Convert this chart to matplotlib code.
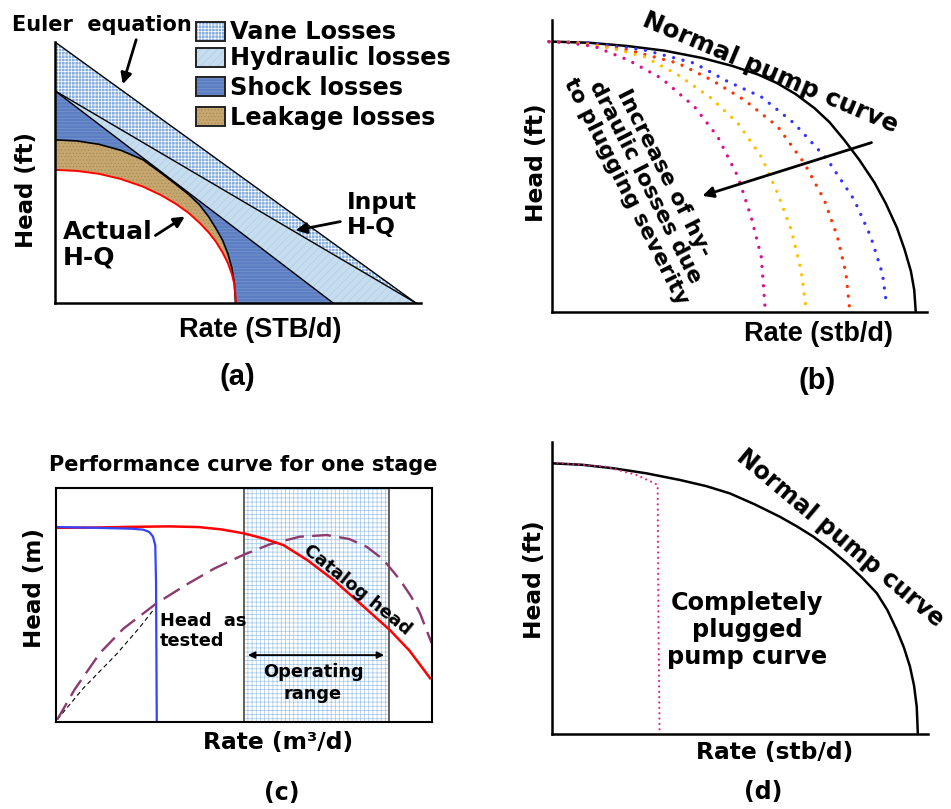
import numpy as np
import matplotlib.pyplot as plt
from matplotlib.patches import Rectangle

plt.rcParams['font.family'] = 'DejaVu Sans'
plt.rcParams['hatch.linewidth'] = 0.5

W, H = 951, 809

# ---- panel (a): head losses (x, y in % of axis) ----
euler_x = [0, 98.6]
euler_y = [100, 0]
input_x = [0, 98.6]
input_y = [81.3, 0]
hyd_x = [0, 76]
hyd_y = [81.3, 0]
leak_x = [0, 6, 12, 18, 24, 29, 33, 36.5, 39.5, 42, 44, 45.8, 47.2, 48.3, 49.0, 49.3]
leak_y = [62.5, 62.1, 60.8, 58.5, 54.9, 49.8, 45.5, 41.6, 37.6, 33.0, 28.5, 24.0, 19.0, 13.5, 7.5, 0]
actual_x = [0, 6, 12, 18, 24, 29, 33, 36.5, 39.5, 42, 44, 45.8, 47.2, 48.3, 49.0, 49.5]
actual_y = [51, 50.6, 49.5, 47.5, 44.6, 41.3, 38.0, 34.5, 30.7, 27.0, 23.4, 19.3, 15.4, 11.2, 7.2, 0]
legend_labels = ['Vane Losses', 'Hydraulic losses', 'Shock losses', 'Leakage losses']

# ---- panel (b): plugging severity ----
normal_b_x = [0, 10, 20, 30, 40, 48, 55, 60, 65, 70, 74, 78, 82, 86, 89, 92, 94, 95.7, 96.6, 97.0]
normal_b_y = [92.6, 92.2, 91.1, 89.5, 87.0, 84.3, 81.3, 78.4, 74.6, 69.8, 65.0, 58.8, 52.0,
              44.3, 37.2, 28.8, 21.5, 14.0, 7.5, 0]
blue_x = [-0.8, 10, 24.7, 38, 46.9, 55.8, 64.6, 73.5, 80.6, 85, 88.1, 89.3]
blue_y = [92.6, 92.2, 89.7, 85.2, 78.9, 73.7, 64.6, 52.1, 38.4, 25.8, 13.2, 1.8]
red_x = [-0.8, 8, 20.3, 33.6, 42.5, 51.3, 60.2, 67.3, 72.6, 76.1, 78.4, 79.3]
red_y = [92.6, 92.2, 89.7, 85.2, 79.5, 72.6, 63.5, 50.9, 38.4, 25.8, 13.2, 1.8]
orange_x = [-0.8, 6, 15.9, 24.7, 33.6, 42.5, 49.6, 55.8, 60.2, 63.8, 66.4, 67.7]
orange_y = [92.6, 92.3, 90.3, 87.4, 81.2, 73.2, 64.6, 53.2, 40.6, 28.1, 14.4, 1.8]
magenta_x = [-0.8, 4, 11.4, 20.3, 29.2, 38, 44.2, 49.6, 53.1, 55.8, 56.8]
magenta_y = [92.6, 92.3, 90.9, 86.3, 80.0, 70.3, 60.0, 46.3, 32.6, 18.9, 1.8]

# ---- panel (c): one stage performance ----
catalog_x = [0.5, 10, 20, 30, 38, 44, 50, 55, 60.5, 67, 73.8, 81, 88.8, 94, 99.5]
catalog_y = [83.0, 83.1, 83.4, 83.6, 83.3, 82.3, 80.6, 78.5, 75.6, 69.0, 60.7, 50.5, 39.3, 30.5, 18.7]
tested_x = [0.5, 10, 20, 23.2, 24.8, 25.8, 26.4, 26.6, 26.8]
tested_y = [83.3, 83.0, 82.6, 82.2, 81.2, 79.2, 75.5, 60, 0]
eff_x = [0.35, 5, 11.7, 18, 26.8, 35, 42, 49.8, 57, 64.9, 72, 78, 82.6, 87, 91.5, 94.5, 96.8, 99.9]
eff_y = [1.1, 14, 29.5, 40, 50.8, 59, 65.5, 71.4, 76, 79.2, 79.9, 78.2, 74.9, 69.5, 60.7, 53.5, 46.5, 33.7]
eff2_x = [0.35, 7.3, 16.1, 22.3, 25.9]
eff2_y = [1.1, 14.5, 29.0, 40.5, 47.9]
op_range = [50, 88.6]

# ---- panel (d): completely plugged ----
normal_d_x = [0, 8, 16.3, 25, 34, 41, 47.3, 54, 60.6, 65, 69.5, 74, 78.4, 82.5, 86.4, 89.2,
              91.7, 93.6, 95.2, 96.3, 97.0, 97.3]
normal_d_y = [92.7, 92.2, 91.0, 89.3, 87.0, 84.9, 82.4, 78.6, 74.4, 71.2, 67.6, 63.3, 58.5,
              53.5, 48.2, 42.4, 35.6, 29.6, 23.1, 16.5, 9.4, 0]
plugged_x = [0, 14.5, 22.5, 26.9, 28.1, 28.3, 28.6]
plugged_y = [93, 91.5, 88.7, 86.1, 85.3, 40, 1.4]


def box(l, t, r, b):
    return [l / W, 1 - b / H, (r - l) / W, (b - t) / H]


def fp(x, y):
    return (x / W, 1 - y / H)


def txt(x, y, s, size=16.5, **kw):
    kw.setdefault('ha', 'center')
    kw.setdefault('va', 'center')
    fig.text(*fp(x, y), s, fontsize=size, fontweight='bold', **kw)


def setup(ax, full=False, lw=1.8):
    ax.set_xlim(0, 100)
    ax.set_ylim(0, 100)
    ax.set_xticks([])
    ax.set_yticks([])
    ax.patch.set_alpha(0)
    for s in ['top', 'right', 'left', 'bottom']:
        ax.spines[s].set_linewidth(lw)
    if not full:
        ax.spines['top'].set_visible(False)
        ax.spines['right'].set_visible(False)


arrow = dict(arrowstyle='-|>', color='black', lw=2, mutation_scale=16)

fig = plt.figure(figsize=(W / 100, H / 100), dpi=100)

# ================= (a) =================
ax = fig.add_axes(box(55, 42, 421, 303))
setup(ax)
styles = [('#86afe0', 'white', '+++++'), ('#c6ddef', '#b3cde4', '////'),
          ('#5c7ec2', '#7995cc', '-----'), ('#c6a770', '#a8894f', '.....')]
# vane losses
ax.fill(euler_x + input_x[::-1], euler_y + input_y[::-1], facecolor=styles[0][0],
        edgecolor=styles[0][1], hatch=styles[0][2], lw=0)
# hydraulic losses
ax.fill(input_x + hyd_x[::-1], input_y + hyd_y[::-1], facecolor=styles[1][0],
        edgecolor=styles[1][1], hatch=styles[1][2], lw=0)
# shock losses
ax.fill(hyd_x + leak_x[::-1], hyd_y + leak_y[::-1], facecolor=styles[2][0],
        edgecolor=styles[2][1], hatch=styles[2][2], lw=0)
# leakage losses
ax.fill(leak_x + actual_x[::-1], leak_y + actual_y[::-1], facecolor=styles[3][0],
        edgecolor=styles[3][1], hatch=styles[3][2], lw=0)
ax.plot(euler_x, euler_y, color='black', lw=1)
ax.plot(input_x, input_y, color='black', lw=1)
ax.plot(hyd_x, hyd_y, color='black', lw=1)
ax.plot(leak_x, leak_y, color='black', lw=1.2)
ax.plot(actual_x, actual_y, color='red', lw=1.4)
ax.annotate('', xy=(18.3, 82.8), xytext=(22.4, 101.9), arrowprops=arrow,
            annotation_clip=False)
ax.annotate('', xy=(65, 27.6), xytext=(78.7, 31.4), arrowprops=arrow)
ax.annotate('', xy=(36.1, 33.7), xytext=(26.8, 25.3), arrowprops=arrow)

for i, lab in enumerate(legend_labels):
    top = [22, 48, 77, 107][i]
    yc = [32, 58, 88, 118][i]
    l, b = fp(196, top + 19)
    fig.add_artist(Rectangle((l, b), 29 / W, 19 / H, transform=fig.transFigure,
                             facecolor=styles[i][0], edgecolor=styles[i][1],
                             hatch=styles[i][2], lw=0))
    fig.add_artist(Rectangle((l, b), 29 / W, 19 / H, transform=fig.transFigure,
                             facecolor='none', edgecolor='#222222', lw=1.4))
    txt(230, yc, lab, 17.3, ha='left')

txt(12, 25, 'Euler  equation', 15, ha='left')
txt(347, 215, 'Input\nH-Q', 16.8, ha='left', linespacing=1.1)
txt(63, 245, 'Actual\nH-Q', 18, ha='left', linespacing=1.1)
txt(27, 190, 'Head (ft)', 16.5, rotation=90)
txt(260, 330, 'Rate (STB/d)', 19.5, family='Liberation Sans')
txt(237, 377, '(a)', 21, family='Liberation Sans')

# ================= (b) =================
ax = fig.add_axes(box(552, 20, 927, 312))
setup(ax)
ax.plot(normal_b_x, normal_b_y, color='black', lw=1.8)
dots = dict(lw=2.4, linestyle=(0, (0.01, 2.9)), dash_capstyle='round', clip_on=False)
ax.plot(blue_x, blue_y, color='#3333ff', **dots)
ax.plot(red_x, red_y, color='#ff3300', **dots)
ax.plot(orange_x, orange_y, color='#ffbf00', **dots)
ax.plot(magenta_x, magenta_y, color='#d9108c', **dots)
ax.annotate('', xy=(39.4, 39.5), xytext=(85.9, 58.3), arrowprops=arrow)
txt(770, 73, 'Normal pump curve', 17.8, rotation=-23, rotation_mode='anchor')
txt(645, 182, 'Increase of hy-\ndraulic losses due\nto plugging severity', 15.8,
    rotation=-63, rotation_mode='anchor', multialignment='center', linespacing=1.05)
txt(537, 163, 'Head (ft)', 16.8, rotation=90)
txt(819, 334, 'Rate (stb/d)', 19.5, family='Liberation Sans')
txt(817, 381, '(b)', 21, family='Liberation Sans')

# ================= (c) =================
ax = fig.add_axes(box(56, 488, 432, 722))
setup(ax, full=True, lw=1.5)
ax.axvspan(op_range[0], op_range[1], facecolor='white', edgecolor='#9fc5e8',
           hatch='++++', lw=0)
ax.axvline(op_range[0], color='#555555', lw=1.3)
ax.axvline(op_range[1], color='#555555', lw=1.3)
ax.plot(eff2_x, eff2_y, color='black', lw=0.8, linestyle=(0, (4, 3)))
ax.plot(eff_x, eff_y, color='#8c3a6e', lw=1.7, linestyle=(0, (8, 3.5)))
ax.plot(catalog_x, catalog_y, color='red', lw=1.8)
ax.plot(tested_x, tested_y, color='#3344ff', lw=1.6)
ax.annotate('', xy=(op_range[0] + 0.3, 28.6), xytext=(op_range[1] - 0.6, 28.6),
            arrowprops=dict(arrowstyle='<|-|>', color='black', lw=1.3, mutation_scale=10))
txt(243, 465, 'Performance curve for one stage', 15)
txt(313, 683, 'Operating\nrange', 12.8, linespacing=1.25)
txt(160, 631, 'Head  as\ntested', 12.8, ha='left', linespacing=1.2)
txt(357, 590, 'Catalog head', 13, rotation=-39, rotation_mode='anchor')
txt(35, 588, 'Head (m)', 16.6, rotation=90)
txt(278, 743, 'Rate (m³/d)', 16.8)
txt(282, 793, '(c)', 17)

# ================= (d) =================
ax = fig.add_axes(box(552, 442, 928, 734))
setup(ax)
ax.plot(normal_d_x, normal_d_y, color='black', lw=1.8)
ax.plot(plugged_x, plugged_y, color='#e0208f', lw=1.6,
        linestyle=(0, (0.01, 2.4)), dash_capstyle='round')
txt(840, 538, 'Normal pump curve', 17, rotation=-40, rotation_mode='anchor')
txt(747, 630, 'Completely\nplugged\npump curve', 17.3, linespacing=1.15)
txt(535, 580, 'Head (ft)', 16.8, rotation=90)
txt(775, 752, 'Rate (stb/d)', 16.8)
txt(763, 792, '(d)', 17)

fig.savefig('out.png', dpi=100)
